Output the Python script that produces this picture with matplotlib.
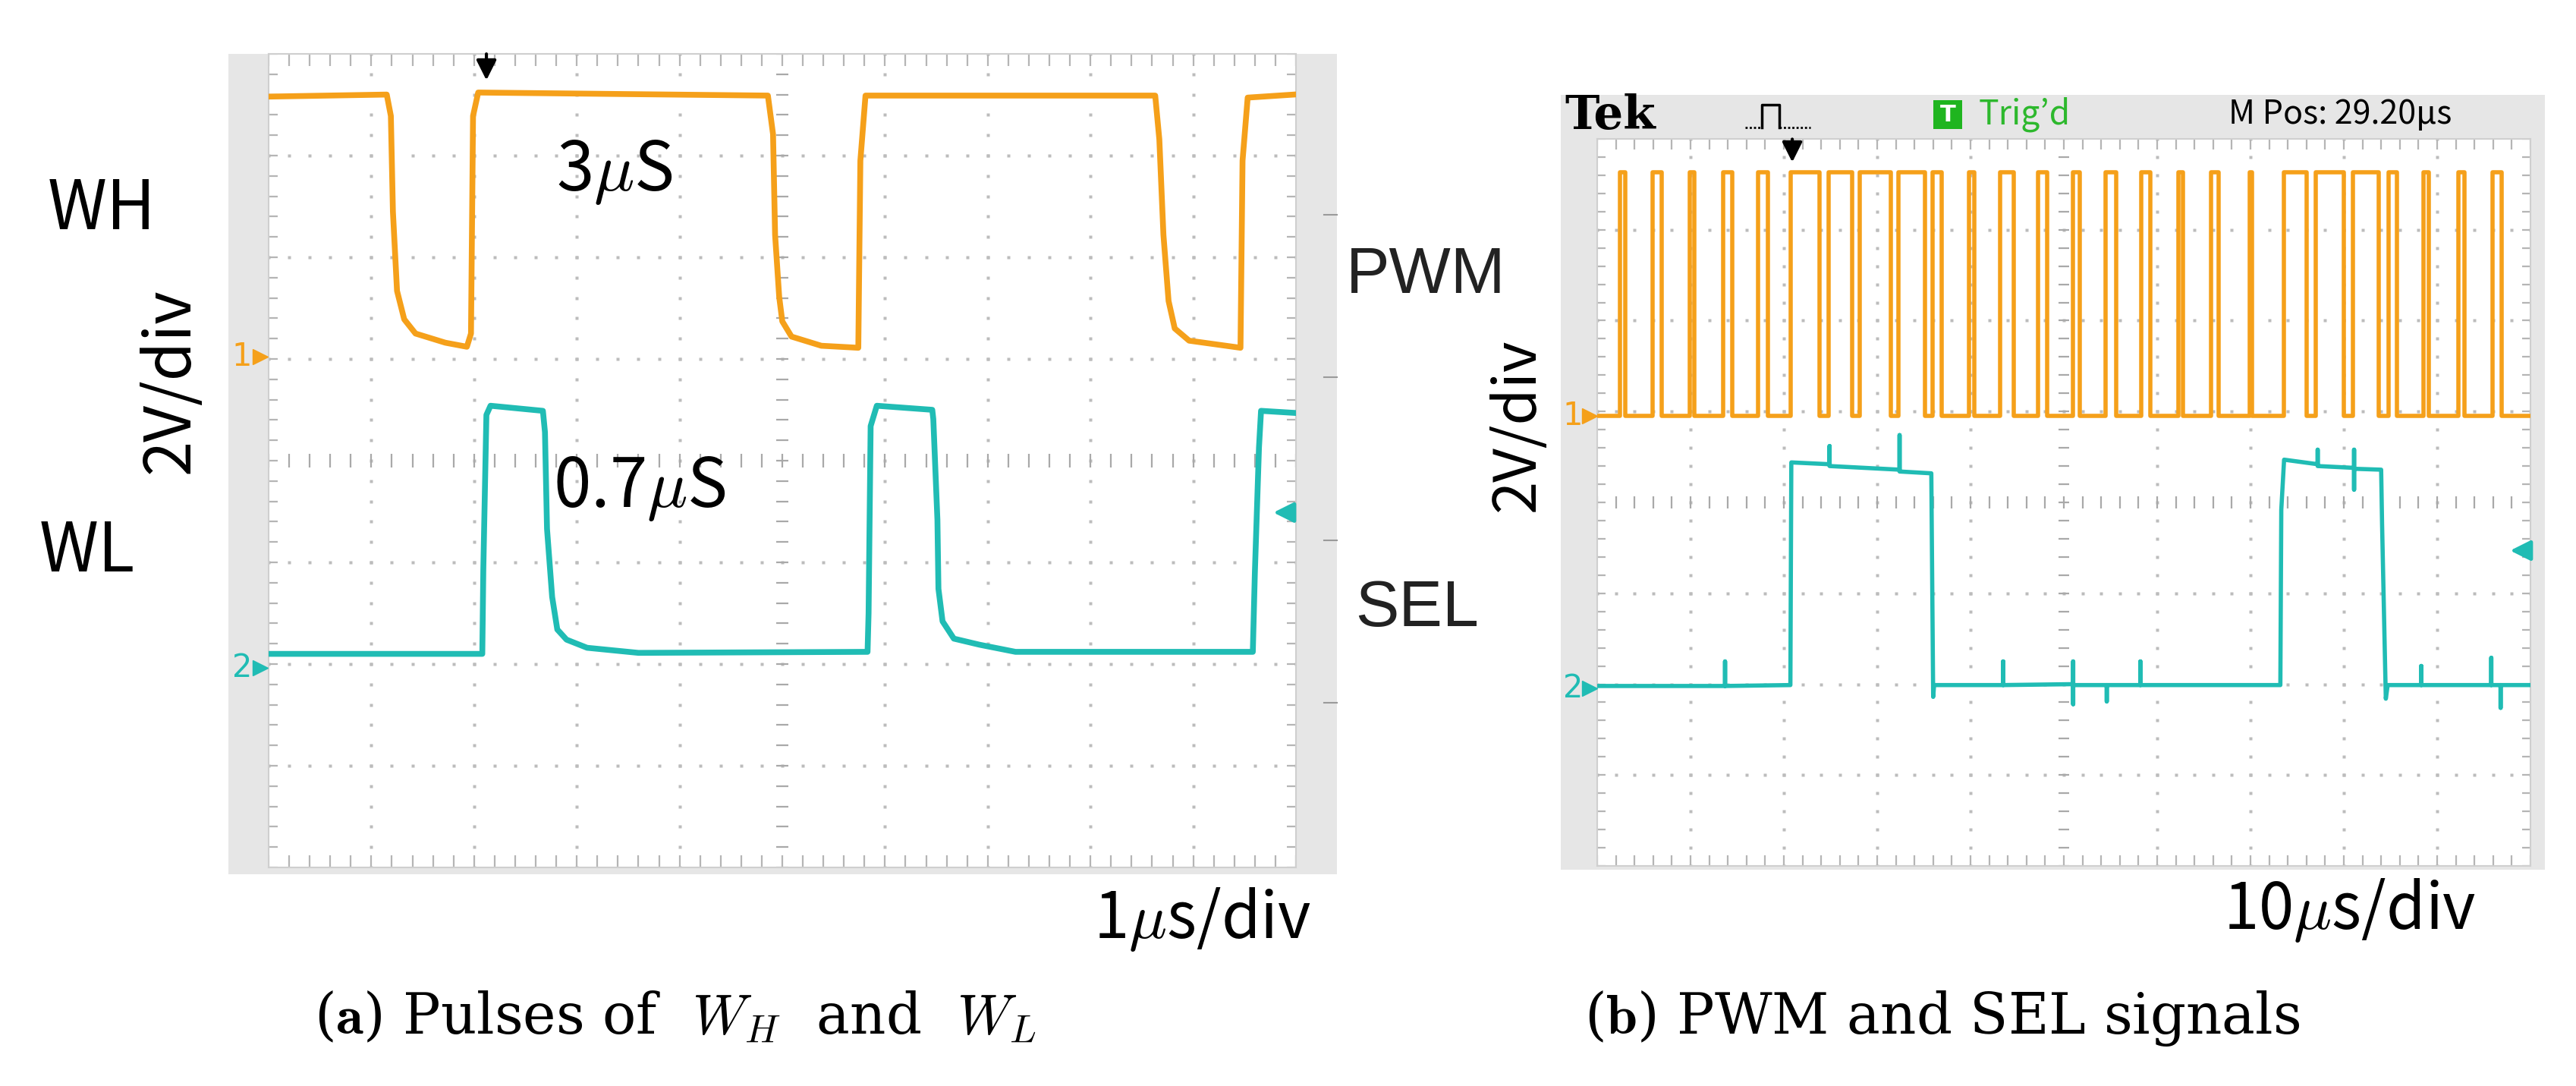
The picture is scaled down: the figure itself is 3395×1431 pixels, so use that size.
import numpy as np
import matplotlib
matplotlib.use("Agg")
import matplotlib.pyplot as plt
from matplotlib.patches import Rectangle
from matplotlib.lines import Line2D

plt.rcParams["mathtext.fontset"] = "cm"

# ---------------- data (scope screen units: x 0..10 div, y 0..8 div) ----------------
# (a) W_H / W_L pulses, 1 us/div
wh_t = [0.00, 1.15, 1.19, 1.21, 1.25, 1.32, 1.43, 1.72, 1.93, 1.97, 1.99, 2.04,
        4.86, 4.91, 4.93, 4.97, 5.00, 5.09, 5.38, 5.74, 5.76, 5.81,
        8.63, 8.67, 8.71, 8.76, 8.82, 8.96, 9.46, 9.48, 9.53, 9.98]
wh_v = [7.58, 7.60, 7.39, 6.45, 5.67, 5.39, 5.25, 5.16, 5.12, 5.25, 7.39, 7.62,
        7.59, 7.21, 6.22, 5.61, 5.37, 5.22, 5.13, 5.11, 6.95, 7.59,
        7.59, 7.16, 6.22, 5.57, 5.30, 5.18, 5.11, 6.95, 7.57, 7.60]

wl_t = [0.00, 2.08, 2.09, 2.12, 2.16, 2.67, 2.69, 2.71, 2.76, 2.81, 2.90, 3.10, 3.60,
        5.83, 5.84, 5.86, 5.92, 6.46, 6.47, 6.51, 6.52, 6.56, 6.67, 6.92, 7.27,
        9.58, 9.60, 9.64, 9.66, 9.98]
wl_v = [2.10, 2.10, 2.93, 4.45, 4.54, 4.49, 4.28, 3.33, 2.66, 2.34, 2.24, 2.16, 2.11,
        2.12, 2.50, 4.34, 4.54, 4.50, 4.41, 3.42, 2.74, 2.42, 2.25, 2.19, 2.12,
        2.12, 2.90, 4.13, 4.49, 4.47]

# (b) PWM and SEL, 10 us/div
pwm_edges = [0.00, 0.24, 0.30, 0.59, 0.69, 0.99, 1.04, 1.35, 1.45, 1.72, 1.83,
             2.07, 2.38, 2.48, 2.73, 2.81, 3.15, 3.23, 3.51, 3.59, 3.69,
             3.98, 4.04, 4.32, 4.46, 4.72, 4.82,
             5.10, 5.17, 5.45, 5.56, 5.83, 5.93, 6.23, 6.28, 6.58, 6.66, 6.99, 7.02,
             7.36, 7.60, 7.70, 8.00, 8.10, 8.37, 8.48, 8.57,
             8.85, 8.91, 9.23, 9.29, 9.59, 9.69, 10.00]
pwm_state = [0, 1, 0, 1, 0, 1, 0, 1, 0, 1, 0,
             1, 0, 1, 0, 1, 0, 1, 0, 1, 0,
             1, 0, 1, 0, 1, 0,
             1, 0, 1, 0, 1, 0, 1, 0, 1, 0, 1, 0,
             1, 0, 1, 0, 1, 0, 1, 0,
             1, 0, 1, 0, 1, 0, 0]
pwm_high = 7.63
pwm_low = 4.95

sel_t = [0.00, 1.37, 1.37, 1.37, 2.07, 2.08, 2.49, 2.49, 2.49, 3.24, 3.24, 3.24,
         3.58, 3.60, 3.61, 4.35, 4.35, 4.35, 5.10, 5.10, 5.10, 5.10, 5.46, 5.46, 5.46,
         5.82, 5.82, 5.82, 7.32, 7.33, 7.36, 7.72, 7.72, 7.72, 8.11, 8.11, 8.11, 8.11,
         8.40, 8.41, 8.45, 8.47, 8.83, 8.83, 8.83, 9.58, 9.58, 9.58, 9.68, 9.68, 9.68, 10.00]
sel_v = [1.98, 1.98, 2.25, 1.98, 1.99, 4.44, 4.42, 4.62, 4.40, 4.36, 4.74, 4.34,
         4.32, 1.86, 1.99, 1.99, 2.25, 1.99, 2.00, 2.25, 1.78, 1.99, 1.99, 1.81, 1.99,
         1.99, 2.25, 1.99, 1.99, 3.92, 4.47, 4.42, 4.58, 4.40, 4.38, 4.58, 4.14, 4.37,
         4.36, 3.76, 1.84, 1.99, 1.99, 2.20, 1.99, 1.99, 2.29, 1.99, 1.99, 1.74, 1.99, 1.99]

ch_level_a = [5.02, 1.96]   # channel 1 / channel 2 ground markers
ch_level_b = [4.95, 1.95]
trig_a = [2.12, 3.49]       # trigger position (x) and trigger level (y)
trig_b = [2.09, 3.47]

ORANGE = "#F5A01A"
CYAN = "#20BCB4"
GRID = "#bcbcbc"
FRAME = "#e6e6e6"

W, H = 3395, 1431
fig = plt.figure(figsize=(W / 100, H / 100), dpi=100)
fig.patch.set_facecolor("white")


def ftext(px, py, s, **kw):
    return fig.text(px / W, 1 - py / H, s, **kw)


def fline(xs, ys, **kw):
    fig.add_artist(Line2D([x / W for x in xs], [1 - y / H for y in ys],
                          transform=fig.transFigure, **kw))


def frame(x0, y0, x1, y1):
    fig.add_artist(Rectangle((x0 / W, 1 - y1 / H), (x1 - x0) / W, (y1 - y0) / H,
                             transform=fig.transFigure, facecolor=FRAME,
                             edgecolor="none", zorder=-2))


def graticule(ax):
    ax.set_xlim(0, 10)
    ax.set_ylim(0, 8)
    ax.set_xticks([])
    ax.set_yticks([])
    for sp in ax.spines.values():
        sp.set_color("#cfcfcf")
        sp.set_linewidth(1.5)
    mx = np.arange(0, 10.001, 0.2)
    my = np.arange(0, 8.001, 0.2)
    for gx in range(1, 10):
        if gx != 5:
            ax.plot(np.full_like(my, gx), my, ls="none", marker="s", ms=2.8,
                    mec="none", color=GRID, zorder=1)
    for gy in range(1, 8):
        if gy != 4:
            ax.plot(mx, np.full_like(mx, gy), ls="none", marker="s", ms=2.8,
                    mec="none", color=GRID, zorder=1)
    # centre cross ticks
    ax.hlines(my, 4.94, 5.06, color="#a9a9a9", lw=1.6, zorder=1)
    ax.vlines(mx, 3.93, 4.07, color="#a9a9a9", lw=1.6, zorder=1)
    # border ticks
    ax.vlines(mx, 7.88, 8.0, color="#b5b5b5", lw=1.6, zorder=1)
    ax.vlines(mx, 0.0, 0.12, color="#b5b5b5", lw=1.6, zorder=1)
    ax.hlines(my, 0.0, 0.09, color="#b5b5b5", lw=1.6, zorder=1)
    ax.hlines(my, 9.91, 10.0, color="#b5b5b5", lw=1.6, zorder=1)


def markers(ax, levels, trig):
    for lev, lab, col in zip(levels, ["1", "2"], [ORANGE, CYAN]):
        ax.plot([-0.08], [lev], marker=">", ms=14, color=col, clip_on=False, zorder=5)
        ax.text(-0.26, lev, lab, color=col, ha="center", va="center",
                fontsize=30, clip_on=False)
    ax.annotate("", xy=(trig[0], 7.72), xytext=(trig[0], 8.02),
                arrowprops=dict(arrowstyle="-|>", color="black", lw=3,
                                mutation_scale=40), annotation_clip=False, zorder=6)
    ax.annotate("", xy=(9.76, trig[1]), xytext=(10.0, trig[1]),
                arrowprops=dict(arrowstyle="-|>", color=CYAN, lw=3.5,
                                mutation_scale=40), annotation_clip=False, zorder=6)


# ---------------- panel (a) ----------------
frame(301, 71, 1762, 1152)
ax1 = fig.add_axes([354 / W, 1 - 1143 / H, (1708 - 354) / W, (1143 - 71) / H])
graticule(ax1)
ax1.plot(wh_t, wh_v, color=ORANGE, lw=5.5, solid_joinstyle="round", zorder=3)
ax1.plot(wl_t, wl_v, color=CYAN, lw=5.5, solid_joinstyle="round", zorder=3)
markers(ax1, ch_level_a, trig_a)
for yy in [283, 497, 712, 926]:
    fline([1745, 1762], [yy, yy], color="#9a9a9a", lw=1.5)

# ---------------- panel (b) ----------------
frame(2057, 125, 3354, 1146)
ax2 = fig.add_axes([2105 / W, 1 - 1141 / H, (3335 - 2105) / W, (1141 - 183) / H])
graticule(ax2)
pwm_v = [pwm_high if s else pwm_low for s in pwm_state]
ax2.plot(pwm_edges, pwm_v, drawstyle="steps-post", color=ORANGE, lw=4, zorder=3)
ax2.plot(sel_t, sel_v, color=CYAN, lw=4, zorder=3)
markers(ax2, ch_level_b, trig_b)

# scope header
ftext(2062, 153, "Tek", fontsize=44, fontweight="bold", family="DejaVu Serif",
      va="center", ha="left")
fline([2300, 2322], [168, 168], color="black", lw=2, ls=(0, (1, 1)))
fline([2322, 2322, 2345, 2345], [168, 138, 138, 168], color="black", lw=2.5)
fline([2345, 2386], [168, 168], color="black", lw=2, ls=(0, (1, 1)))
fig.add_artist(Rectangle((2548 / W, 1 - 170 / H), 38 / W, 38 / H,
                         transform=fig.transFigure, facecolor="#1fb51f",
                         edgecolor="none"))
ftext(2567, 152, "T", fontsize=22, color="white", ha="center", va="center",
      fontweight="bold")
ftext(2608, 151, "Trig\u2019d", fontsize=32, color="#2db82d", va="center",
      family=["Liberation Sans Narrow", "Noto Sans CJK JP", "DejaVu Sans"])
ftext(2937, 151, "M Pos: 29.20\u00b5s", fontsize=31, color="black", va="center",
      family=["Liberation Sans Narrow", "Noto Sans CJK JP", "DejaVu Sans"])

# ---------------- labels ----------------
JP = ["Noto Sans CJK JP", "DejaVu Sans"]
ftext(134, 277, "WH", fontsize=64, family=JP, ha="center", va="center")
ftext(115, 728, "WL", fontsize=64, family=JP, ha="center", va="center")
ftext(224, 502, "2V/div", fontsize=60, family=JP, ha="center", va="center", rotation=90)
ftext(733, 226, r"3$\mu$S", fontsize=64, family=JP, ha="left", va="center")
ftext(729, 643, r"0.7$\mu$S", fontsize=64, family=JP, ha="left", va="center")
ftext(1728, 1212, r"1$\mu$s/div", fontsize=60, family=JP, ha="right", va="center")

ftext(1774, 364, "PWM", fontsize=62, family="Liberation Sans", color="#222222",
      ha="left", va="center")
ftext(1786, 803, "SEL", fontsize=62, family="Liberation Sans", color="#222222",
      ha="left", va="center")

ftext(2000, 560, "2V/div", fontsize=56, family=JP, ha="center", va="center", rotation=90)
ftext(3263, 1200, r"10$\mu$s/div", fontsize=60, family=JP, ha="right", va="center")

ftext(890, 1342, r"($\mathbf{a}$) Pulses of  $W_H$  and  $W_L$", fontsize=53,
      family="DejaVu Serif", ha="center", va="center")
ftext(2560, 1342, r"($\mathbf{b}$) PWM and SEL signals", fontsize=53,
      family="DejaVu Serif", ha="center", va="center")

fig.savefig("out.png", dpi=100, facecolor="white")
